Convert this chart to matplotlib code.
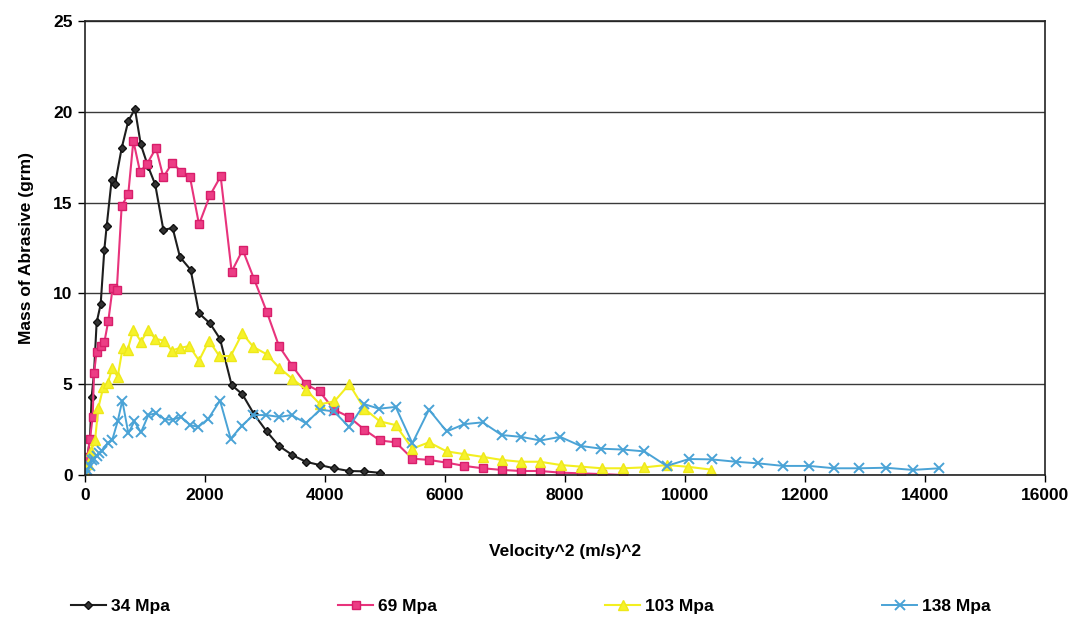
import matplotlib
matplotlib.use("Agg")
import matplotlib.pyplot as plt

# ------------------------
# DATA
# ------------------------

x34 = [0, 40, 83, 111, 150, 194, 261, 322, 361, 444, 500, 611, 722, 833, 930, 1050,
       1170, 1306, 1461, 1583, 1761, 1900, 2083, 2250, 2444, 2622, 2817, 3028, 3233,
       3456, 3680, 3910, 4150, 4400, 4655, 4917]
y34 = [0.2, 1.0, 2.0, 4.3, 5.6, 8.4, 9.4, 12.4, 13.7, 16.25, 16.0, 18.0, 19.5, 20.15,
       18.2, 17.0, 16.0, 13.5, 13.6, 12.0, 11.3, 8.9, 8.35, 7.5, 4.95, 4.45, 3.35, 2.4,
       1.6, 1.1, 0.73, 0.55, 0.37, 0.22, 0.2, 0.12]

x69 = [0, 40, 83, 128, 150, 194, 261, 322, 389, 460, 530, 611, 722, 806, 917, 1028,
       1183, 1306, 1456, 1600, 1750, 1900, 2083, 2261, 2444, 2628, 2817, 3028, 3233,
       3456, 3680, 3910, 4150, 4400, 4655, 4917, 5178, 5456, 5733, 6028, 6322, 6628,
       6944, 7270, 7590, 7920, 8260, 8611, 8972]
y69 = [0.3, 1.0, 2.0, 3.2, 5.6, 6.8, 7.1, 7.3, 8.5, 10.3, 10.2, 14.8, 15.5, 18.4, 16.7,
       17.1, 18.0, 16.4, 17.2, 16.7, 16.4, 13.8, 15.4, 16.45, 11.2, 12.4, 10.8, 9.0, 7.1,
       6.0, 5.0, 4.6, 3.6, 3.2, 2.5, 1.9, 1.8, 0.9, 0.83, 0.68, 0.5, 0.37, 0.28, 0.22,
       0.22, 0.13, 0.09, 0.05, 0.0]

x103 = [0, 50, 100, 167, 222, 306, 378, 456, 544, 628, 711, 806, 933, 1056, 1167, 1317,
        1444, 1583, 1739, 1900, 2067, 2239, 2428, 2622, 2806, 3028, 3239, 3456, 3683,
        3917, 4155, 4405, 4655, 4917, 5178, 5456, 5733, 6028, 6322, 6628, 6944, 7261,
        7583, 7928, 8267, 8611, 8972, 9322, 9694, 10055, 10428]
y103 = [0.1, 0.6, 1.3, 1.9, 3.7, 4.85, 5.05, 5.9, 5.4, 7.0, 6.9, 8.0, 7.35, 8.0, 7.5,
        7.4, 6.85, 7.0, 7.1, 6.3, 7.4, 6.55, 6.55, 7.8, 7.05, 6.65, 5.9, 5.3, 4.7, 3.9,
        4.05, 5.0, 3.65, 2.95, 2.75, 1.45, 1.8, 1.3, 1.15, 1.0, 0.83, 0.73, 0.73, 0.55,
        0.46, 0.37, 0.37, 0.42, 0.55, 0.45, 0.3]

x138 = [0, 40, 83, 111, 150, 194, 240, 278, 378, 456, 544, 622, 722, 822, 933, 1056,
        1183, 1333, 1461, 1600, 1750, 1889, 2056, 2250, 2428, 2611, 2806, 3017, 3239,
        3444, 3683, 3917, 4150, 4400, 4656, 4900, 5178, 5456, 5733, 6028, 6322, 6628,
        6944, 7270, 7590, 7920, 8260, 8600, 8972, 9322, 9694, 10067, 10444, 10844,
        11222, 11639, 12072, 12489, 12905, 13350, 13794, 14239]
y138 = [0.0, 0.3, 0.5, 0.83, 0.9, 1.05, 1.2, 1.3, 1.75, 1.95, 2.95, 4.1, 2.3, 2.95, 2.35,
        3.3, 3.4, 3.05, 3.05, 3.2, 2.75, 2.65, 3.1, 4.1, 2.0, 2.7, 3.3, 3.3, 3.2, 3.3,
        2.85, 3.6, 3.5, 2.65, 3.9, 3.65, 3.75, 1.75, 3.6, 2.4, 2.8, 2.9, 2.2, 2.1, 1.9,
        2.1, 1.6, 1.45, 1.4, 1.3, 0.5, 0.88, 0.86, 0.73, 0.64, 0.5, 0.5, 0.37, 0.37,
        0.4, 0.28, 0.37]

labels = ["34 Mpa", "69 Mpa", "103 Mpa", "138 Mpa"]
x_ticks = list(range(0, 16001, 2000))
y_ticks = [0, 5, 10, 15, 20, 25]

# ------------------------
# STYLE
# ------------------------

plt.rcParams['font.family'] = ['Liberation Sans', 'DejaVu Sans']
plt.rcParams['font.weight'] = 'bold'

fig = plt.figure(figsize=(10.78, 6.35), dpi=100)
ax = fig.add_axes([85 / 1078, 1 - 475 / 635, 960 / 1078, 454 / 635])

ax.set_xlim(0, 16000)
ax.set_ylim(0, 25)
ax.set_xticks(x_ticks)
ax.set_yticks(y_ticks)
ax.tick_params(direction='out', length=5, width=1, labelsize=12.5, pad=4)
for lab in ax.get_xticklabels() + ax.get_yticklabels():
    lab.set_fontweight('bold')
ax.yaxis.grid(True, color='#3a3a3a', linewidth=1)
ax.set_axisbelow(True)
for sp in ax.spines.values():
    sp.set_color('#222222')
    sp.set_linewidth(1.2)

ax.set_xlabel("Velocity^2 (m/s)^2", fontsize=12.5, fontweight='bold', labelpad=30)
ax.set_ylabel("Mass of Abrasive (grm)", fontsize=12.5, fontweight='bold', labelpad=14)

ax.plot(x34, y34, color='#1e1e1e', linewidth=1.5, marker='D', markersize=4.5,
        markerfacecolor='#333333', markeredgecolor='#111111', label=labels[0])
ax.plot(x69, y69, color='#e8337c', linewidth=1.5, marker='s', markersize=6,
        markerfacecolor='#ec3d85', markeredgecolor='#d81e6a', label=labels[1])
ax.plot(x103, y103, color='#f3ef20', linewidth=1.5, marker='^', markersize=6.5,
        markerfacecolor='#f6f22a', markeredgecolor='#eee81a', label=labels[2])
ax.plot(x138, y138, color='#4aa3d6', linewidth=1.4, marker='x', markersize=7,
        markeredgewidth=1.4, label=labels[3])

fig.legend(loc='center left', bbox_to_anchor=(64 / 1078, 1 - 606 / 635), ncol=4,
           frameon=False, handlelength=2.0, handletextpad=0.3,
           columnspacing=9.7, borderaxespad=0, prop={'weight': 'bold', 'size': 12.5})

fig.savefig("out.png", dpi=100, facecolor='white')
